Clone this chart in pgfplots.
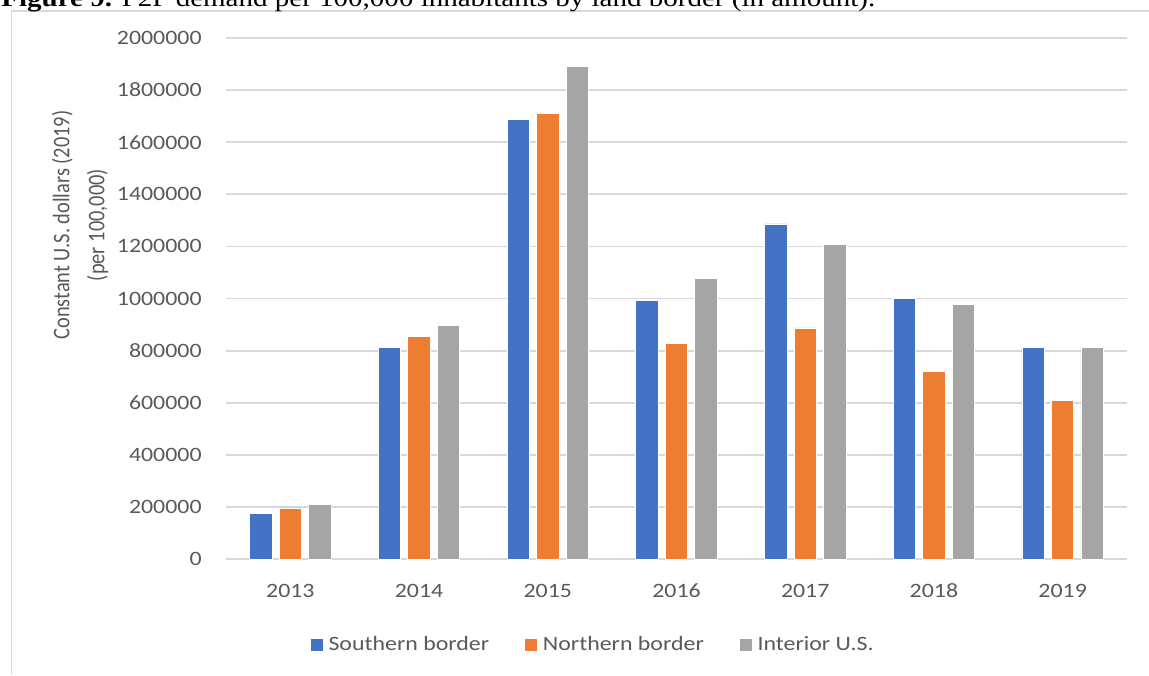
\documentclass[border=0pt]{standalone}
\usepackage{fontspec}
\setmainfont{Carlito}[FakeStretch=1.17]
\newfontfamily\labelfont{Carlito}
\newfontfamily\titlefont{Liberation Serif}[FakeStretch=1.17]
\usepackage{pgfplots}
\pgfplotsset{compat=1.18}
\definecolor{cblue}{HTML}{4472C4}
\definecolor{corange}{HTML}{ED7D31}
\definecolor{cgray}{HTML}{A5A5A5}
\definecolor{cgrid}{HTML}{D9D9D9}
\definecolor{ctext}{HTML}{595959}
\begin{document}
\begin{tikzpicture}
\useasboundingbox (0,0) rectangle (574.5pt,337.5pt);
% chart frame
\draw[cgrid, line width=0.8pt] (5.75pt,0pt) -- (5.75pt,332pt) -- (580pt,332pt);
% title (partially cut off at the top, as in the reference)
\node[anchor=base west, inner sep=0pt, text=black] at (0.5pt,334.3pt)
  {\titlefont\fontsize{12.4}{14}\selectfont\textbf{Figure 9.} P2P demand per 100,000 inhabitants by land border (in amount).};
\begin{axis}[
  at={(113pt,58pt)}, anchor=south west,
  scale only axis, width=450.5pt, height=260.5pt,
  xmin=-0.5, xmax=6.5, ymin=0, ymax=2000000,
  xtick={0,1,2,3,4,5,6},
  xticklabels={2013,2014,2015,2016,2017,2018,2019},
  ytick={0,200000,400000,600000,800000,1000000,1200000,1400000,1600000,1800000,2000000},
  scaled y ticks=false,
  /pgf/number format/assume math mode=true,
  yticklabel={\pgfmathprintnumber[fixed,1000 sep={},precision=0]{\tick}},
  ymajorgrids, major grid style={cgrid, line width=0.9pt},
  axis line style={draw=none},
  major tick length=0pt,
  tick label style={font=\fontsize{10.2}{12}\selectfont, text=ctext},
  yticklabel style={anchor=east, inner sep=0pt, xshift=-12pt},
  xticklabel style={anchor=base, inner sep=0pt, yshift=-19pt},
  bar width=11.2pt,
  ylabel={Constant U.S. dollars (2019)\\(per 100,000)},
  ylabel style={at={(axis description cs:-0.162,0.641)}, anchor=center, yscale=1.17,
    align=center, text=ctext, font=\labelfont\fontsize{10.2}{15}\selectfont},
  legend style={at={(axis description cs:0.0925,-0.165)}, anchor=west,
    draw=none, fill=none, legend columns=3, inner sep=0pt,
    font=\fontsize{10.2}{12}\selectfont, text=ctext,
    /tikz/every even column/.append style={column sep=17.5pt},
    nodes={inner sep=0pt, anchor=west}},
  legend image code/.code={\fill[#1] (0pt,-3.25pt) rectangle (6.5pt,3.25pt);},
  legend cell align=left,
]
\addplot[ybar, bar shift=-14.75pt, fill=cblue, draw=white, line width=0.4pt] coordinates
  {(0,176000) (1,813000) (2,1688000) (3,992000) (4,1286000) (5,1000000) (6,813000)};
\addlegendentry{\hspace{2.5pt}Southern border}
\addplot[ybar, bar shift=0pt, fill=corange, draw=white, line width=0.4pt] coordinates
  {(0,196000) (1,854000) (2,1710000) (3,826000) (4,887000) (5,720000) (6,610000)};
\addlegendentry{\hspace{2.5pt}Northern border}
\addplot[ybar, bar shift=14.75pt, fill=cgray, draw=white, line width=0.4pt] coordinates
  {(0,211000) (1,897000) (2,1890000) (3,1076000) (4,1206000) (5,977000) (6,812000)};
\addlegendentry{\hspace{2.5pt}Interior U.S.}
\end{axis}
\end{tikzpicture}
\end{document}
